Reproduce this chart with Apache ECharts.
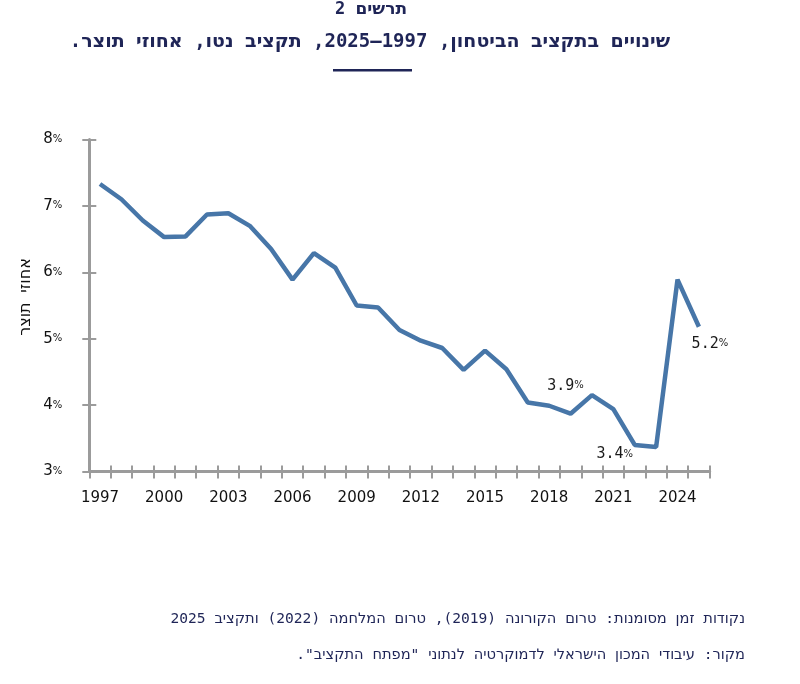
<!DOCTYPE html>
<html><head><meta charset="utf-8">
<script src="https://cdn.jsdelivr.net/npm/echarts@6/dist/echarts.min.js"></script>
<style>html,body{margin:0;padding:0;background:#fff}#c{width:800px;height:684px}#c canvas{direction:rtl}</style>
</head><body><div id="c"></div>
<script>
const years = ['1997','1998','1999','2000','2001','2002','2003','2004','2005','2006','2007','2008','2009','2010','2011','2012','2013','2014','2015','2016','2017','2018','2019','2020','2021','2022','2023','2024','2025'];
const values = [7.33,7.10,6.78,6.53,6.54,6.87,6.89,6.70,6.35,5.89,6.29,6.07,5.50,5.47,5.13,4.97,4.86,4.53,4.82,4.54,4.04,3.99,3.87,4.15,3.94,3.40,3.37,5.89,5.18];
const yTicks = [3,4,5,6,7,8];
const annotations = [
  {year:'2019', text:'3.9', offset:[-5,-28]},
  {year:'2022', text:'3.4', offset:[-20,9]},
  {year:'2025', text:'5.2', offset:[11,17]}
];
const titleTop = 'תרשים 2';
const titleMain = 'שינויים בתקציב הביטחון, 1997–2025, תקציב נטו, אחוזי תוצר.';
const yName = 'אחוזי תוצר';
const note1 = 'נקודות זמן מסומנות: טרום הקורונה (2019), טרום המלחמה (2022) ותקציב 2025';
const note2 = 'מקור: עיבודי המכון הישראלי לדמוקרטיה לנתוני "מפתח התקציב".';

const navy = '#1f2557';
const axisGray = '#9b9b9b';
const font = 'DejaVu Sans';
const mono = '"DejaVu Sans Mono", "DejaVu Sans"';

const seriesData = values.map((v, i) => {
  const a = annotations.find(x => x.year === years[i]);
  if (!a) return v;
  return {value: v, label: {show: true, position: 'inside', offset: a.offset,
    formatter: '{n|' + a.text + '}{p|%}',
    rich: {n: {fontSize: 15, fontFamily: mono, color: '#1a1a1a'}, p: {fontSize: 10, fontFamily: font, color: '#1a1a1a'}}}};
});

const chart = echarts.init(document.getElementById('c'), null, {renderer: 'canvas'});
const baseX = {type: 'category', data: years, boundaryGap: true, gridIndex: 0, position: 'bottom'};
const baseY = {type: 'value', min: yTicks[0], max: yTicks[yTicks.length-1], interval: 1, gridIndex: 0, position: 'left'};
chart.setOption({
  animation: false,
  grid: {left: 89.3, right: 90.4, top: 139.5, bottom: 212.5},
  xAxis: [
    Object.assign({}, baseX, {
      axisLine: {show: true, lineStyle: {color: axisGray, width: 3}},
      axisTick: {show: true, interval: 0, length: 7, lineStyle: {color: axisGray, width: 2}},
      axisLabel: {interval: 2, margin: 19, fontSize: 15, fontFamily: font, color: '#111'},
      splitLine: {show: false}
    }),
    Object.assign({}, baseX, {
      axisLine: {show: false},
      axisTick: {show: true, inside: true, interval: 0, length: 6, lineStyle: {color: axisGray, width: 2}},
      axisLabel: {show: false},
      splitLine: {show: false}
    })
  ],
  yAxis: [
    Object.assign({}, baseY, {
      axisLine: {show: true, lineStyle: {color: axisGray, width: 3}},
      axisTick: {show: true, length: 7, lineStyle: {color: axisGray, width: 2}},
      axisLabel: {margin: 27, fontFamily: font, formatter: v => '{n|' + v + '}{p|%}',
        rich: {n: {fontSize: 15, fontFamily: font, color: '#111'}, p: {fontSize: 10, fontFamily: font, color: '#111'}}},
      splitLine: {show: false}
    }),
    Object.assign({}, baseY, {
      axisLine: {show: false},
      axisTick: {show: true, inside: true, length: 7, lineStyle: {color: axisGray, width: 2}},
      axisLabel: {show: false},
      splitLine: {show: false}
    })
  ],
  series: [{
    type: 'line', data: seriesData, xAxisIndex: 0, yAxisIndex: 0,
    symbol: 'circle', symbolSize: 1, showSymbol: true,
    lineStyle: {color: '#4776a8', width: 4.5}, itemStyle: {color: 'rgba(0,0,0,0)'},
    emphasis: {disabled: true},
    z: 5
  }],
  graphic: [
    {type: 'text', x: 371, y: 1, style: {text: titleTop, font: 'bold 17px ' + mono, fill: navy, textAlign: 'center'}},
    {type: 'text', x: 370, y: 33, style: {text: titleMain, font: 'bold 19px ' + mono, fill: navy, textAlign: 'center'}},
    {type: 'rect', shape: {x: 333, y: 69, width: 79, height: 2.5}, style: {fill: navy}},
    {type: 'text', x: 26, y: 297, rotation: Math.PI / 2, style: {text: yName, font: '16px ' + mono, fill: '#111', textAlign: 'center', textVerticalAlign: 'middle'}},
    {type: 'text', x: 745, y: 612, style: {text: note1, font: '14.6px ' + mono, fill: navy, textAlign: 'right'}},
    {type: 'text', x: 745, y: 648, style: {text: note2, font: '14.6px ' + mono, fill: navy, textAlign: 'right'}}
  ]
});
</script></body></html>
